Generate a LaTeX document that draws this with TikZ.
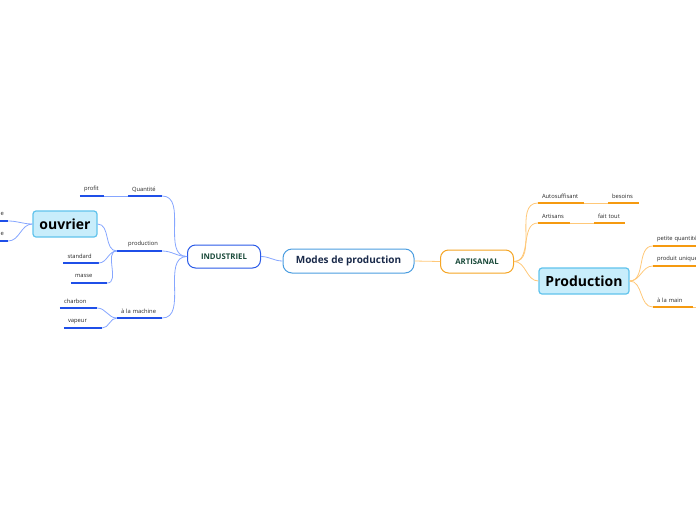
\documentclass[tikz,border=0pt]{standalone}
\usepackage{fontspec}
\setmainfont{Open Sans}
\definecolor{ulB}{HTML}{1F4FE8}
\definecolor{cnB}{HTML}{86A6FF}
\definecolor{ulO}{HTML}{F59A10}
\definecolor{cnO}{HTML}{FFC878}
\definecolor{rootB}{HTML}{4A9DE0}
\definecolor{indB}{HTML}{2A5AE8}
\definecolor{artO}{HTML}{F5A524}
\definecolor{txG}{HTML}{1A4A3A}
\definecolor{txN}{HTML}{1A2A4A}
\definecolor{boxF}{HTML}{C8EDFB}
\definecolor{boxD}{HTML}{60C3EC}
\begin{document}
\begin{tikzpicture}[x=1pt,y=-1pt,
  topic/.style={inner xsep=4pt, inner ysep=0pt, minimum height=13pt, anchor=south,
    align=left, font=\fontsize{5.8}{6.5}\selectfont, text=black!85},
  root/.style={draw=rootB, line width=1pt, fill=white, rounded corners=9pt,
    minimum width=131pt, minimum height=24pt, inner sep=0pt,
    font=\fontsize{10}{12}\selectfont\bfseries, text=txN},
  main/.style={line width=1pt, fill=white, rounded corners=8pt,
    minimum width=73pt, minimum height=23pt, inner sep=0pt,
    font=\fontsize{7.8}{9}\selectfont\bfseries, text=txG},
  bigbox/.style={draw=boxD, line width=1.2pt, fill=boxF, rounded corners=3pt,
    minimum height=26pt, inner sep=0pt, font=\fontsize{14}{16}\selectfont\bfseries, text=black},
  lineB/.style={draw=ulB, line width=1.6pt},
  lineO/.style={draw=ulO, line width=1.6pt},
  conB/.style={draw=cnB, line width=0.8pt},
  conO/.style={draw=cnO, line width=0.8pt},
]
\useasboundingbox (0,0) rectangle (696,520);
\clip (0,0) rectangle (696,520);

% central and main topics
\node[root] (modes) at (348.5,261) {Modes de production};
\node[main, draw=indB] (indus) at (224,256.5) {INDUSTRIEL};
\node[main, draw=artO] (artis) at (477,261.5) {ARTISANAL};

% left side topics
\node[topic, text width=26pt] (quant) at (145,196) {Quantité};
\node[topic, text width=16pt] (profit) at (92,196) {profit};
\node[topic, text width=37pt, align=right] (prod) at (139.5,251) {production};
\node[topic, text width=27pt] (std) at (81,263) {standard};
\node[topic, text width=28pt] (masse) at (89,283) {masse};
\node[topic, text width=37pt] (mach) at (139.5,318) {à la machine};
\node[topic, text width=29pt] (charb) at (78.5,308) {charbon};
\node[topic, text width=30pt] (vap) at (83,328) {vapeur};
\node[bigbox, minimum width=64pt] (ouvrier) at (65,224) {ouvrier};
\node[topic, text width=30pt, align=right] (e1) at (-11,221) {e};
\node[topic, text width=30pt, align=right] (e2) at (-11,241) {e};

% right side topics
\node[topic, text width=38pt] (auto) at (561,203) {Autosuffisant};
\node[topic, text width=23pt] (besoins) at (623.5,203) {besoins};
\node[topic, text width=24pt] (arts) at (554,223) {Artisans};
\node[topic, text width=23pt] (fait) at (609.5,223) {fait tout};
\node[bigbox, minimum width=90pt] (prodbox) at (584,281) {Production};
\node[topic, text width=52pt] (pq) at (683,246) {petite quantité};
\node[topic, text width=52pt] (pu) at (683,266) {produit unique};
\node[topic, text width=32pt] (main) at (673,307) {à la main};
\coordinate (mainx) at (710,307);

% underlines
\foreach \n in {quant,profit,prod,std,masse,mach,charb,vap,e1,e2}
  \draw[lineB] (\n.south west) -- (\n.south east);
\foreach \n in {auto,besoins,arts,fait,pq,pu,main}
  \draw[lineO] (\n.south west) -- (\n.south east);

% connectors, left
\draw[conB] (indus.east) to[out=0,in=180] (modes.west);
\draw[conB] (indus.west) to[out=180,in=0] (quant.south east);
\draw[conB] (indus.west) to[out=180,in=0] (prod.south east);
\draw[conB] (indus.west) to[out=180,in=0] (mach.south east);
\draw[conB] (quant.south west) -- (profit.south east);
\draw[conB] (prod.south west) to[out=180,in=0] (ouvrier.east);
\draw[conB] (prod.south west) to[out=180,in=0] (std.south east);
\draw[conB] (prod.south west) to[out=180,in=0] (masse.south east);
\draw[conB] (mach.south west) to[out=180,in=0] (charb.south east);
\draw[conB] (mach.south west) to[out=180,in=0] (vap.south east);
\draw[conB] (ouvrier.west) to[out=180,in=0] (e1.south east);
\draw[conB] (ouvrier.west) to[out=180,in=0] (e2.south east);

% connectors, right
\draw[conO] (modes.east) -- (artis.west);
\draw[conO] (artis.east) to[out=0,in=180] (auto.south west);
\draw[conO] (artis.east) to[out=0,in=180] (arts.south west);
\draw[conO] (artis.east) to[out=0,in=180] (prodbox.west);
\draw[conO] (auto.south east) -- (besoins.south west);
\draw[conO] (arts.south east) -- (fait.south west);
\draw[conO] (prodbox.east) to[out=0,in=180] (pq.south west);
\draw[conO] (prodbox.east) to[out=0,in=180] (pu.south west);
\draw[conO] (prodbox.east) to[out=0,in=180] (main.south west);
\draw[conO] (main.south east) -- (mainx);
\end{tikzpicture}
\end{document}
